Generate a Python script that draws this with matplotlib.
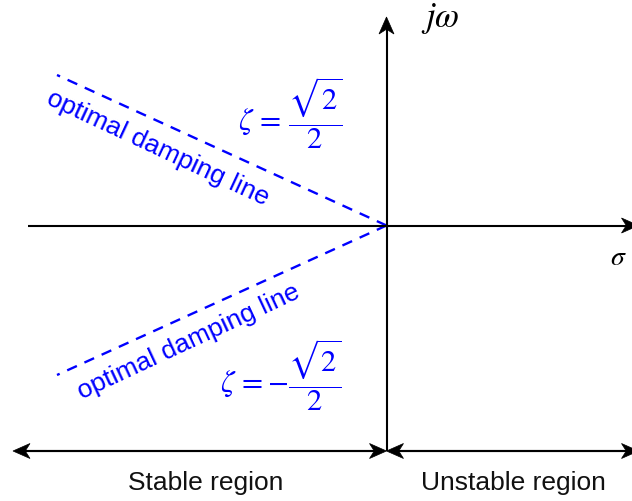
import numpy as np
import matplotlib
matplotlib.use("Agg")
import matplotlib.pyplot as plt
from matplotlib.patches import Polygon

plt.rcParams['mathtext.fontset'] = 'stix'
plt.rcParams['font.family'] = ['Liberation Sans', 'DejaVu Sans']

# ---- diagram content (pixel-like units, origin at the s-plane origin, y up) ----
origin = [0.0, 0.0]
real_axis_x = [-358.5, 252.0]          # sigma axis extent
imag_axis_y = [-225.5, 208.5]          # j-omega axis extent
region_arrow_y = -225.5
stable_arrow_x = [0.0, -373.5]
unstable_arrow_x = [0.0, 252.0]
damping_upper_end = [-329.5, 150.5]
damping_lower_end = [-329.5, -149.5]

axis_labels = [r'$j\omega$', r'$\sigma$']
axis_label_pos = [[54.0, 207.0], [224.0, -32.5]]
zeta_labels = [r'$\zeta\,=\,\dfrac{\sqrt{2}}{2}$', r'$\zeta\,=-\dfrac{\sqrt{2}}{2}$']
zeta_label_pos = [[-96.5, 112.5], [-105.5, -149.5]]
line_label = 'optimal damping line'
line_label_pos = [[-228.5, 77.5], [-197.5, -116.5]]
line_label_rot = [-25.0, 25.0]
region_labels = ['Stable region', 'Unstable region']
region_label_pos = [[-180.5, -257.5], [126.5, -257.5]]

BLUE = '#0000FF'
LW = 1.5

fig = plt.figure(figsize=(6.32, 5.01), dpi=100)
ax = fig.add_axes([0, 0, 1, 1])
ax.set_xlim(-386.5, 245.5)
ax.set_ylim(-275.5, 225.5)
ax.set_aspect('equal')
ax.axis('off')


def arrowhead(tip, direction, L=17.0, W=15.0, notch=0.72):
    d = np.asarray(direction, float)
    d = d / np.linalg.norm(d)
    n = np.array([-d[1], d[0]])
    t = np.asarray(tip, float)
    pts = [t, t - L * d + W / 2 * n, t - notch * L * d, t - L * d - W / 2 * n]
    ax.add_patch(Polygon(pts, closed=True, facecolor='black', edgecolor='black',
                         lw=0.5, zorder=5))


def arrow_line(p0, p1):
    p0 = np.asarray(p0, float)
    p1 = np.asarray(p1, float)
    d = p1 - p0
    back = p1 - d / np.linalg.norm(d) * 10
    ax.plot([p0[0], back[0]], [p0[1], back[1]], color='black', lw=LW,
            solid_capstyle='butt', zorder=4)
    arrowhead(p1, d)


# axes
arrow_line([real_axis_x[0], origin[1]], [real_axis_x[1], origin[1]])
arrow_line([origin[0], imag_axis_y[0]], [origin[0], imag_axis_y[1]])

# region arrows
arrow_line([stable_arrow_x[1] + 10, region_arrow_y], [stable_arrow_x[0], region_arrow_y])
arrow_line([stable_arrow_x[0] - 10, region_arrow_y], [stable_arrow_x[1], region_arrow_y])
arrow_line([unstable_arrow_x[1] - 10, region_arrow_y], [unstable_arrow_x[0], region_arrow_y])
arrow_line([unstable_arrow_x[0] + 10, region_arrow_y], [unstable_arrow_x[1], region_arrow_y])

# optimal damping lines
for end in (damping_upper_end, damping_lower_end):
    ax.plot([origin[0], end[0]], [origin[1], end[1]], color=BLUE, lw=1.7,
            dashes=(4.5, 3.5), zorder=3)

# labels
ax.text(axis_label_pos[0][0], axis_label_pos[0][1], axis_labels[0], fontsize=25,
        ha='center', va='center', color='black')
ax.text(axis_label_pos[1][0], axis_label_pos[1][1], axis_labels[1], fontsize=20,
        ha='left', va='center', color='black')

for lab, pos in zip(zeta_labels, zeta_label_pos):
    ax.text(pos[0], pos[1], lab, fontsize=22, ha='center', va='center', color=BLUE)

for pos, rot in zip(line_label_pos, line_label_rot):
    ax.text(pos[0], pos[1], line_label, fontsize=19, ha='center', va='center',
            rotation=rot, rotation_mode='anchor', color=BLUE)

for lab, pos in zip(region_labels, region_label_pos):
    ax.text(pos[0], pos[1], lab, fontsize=19, ha='center', va='center', color='#111111')

fig.savefig('out.png', dpi=100)
